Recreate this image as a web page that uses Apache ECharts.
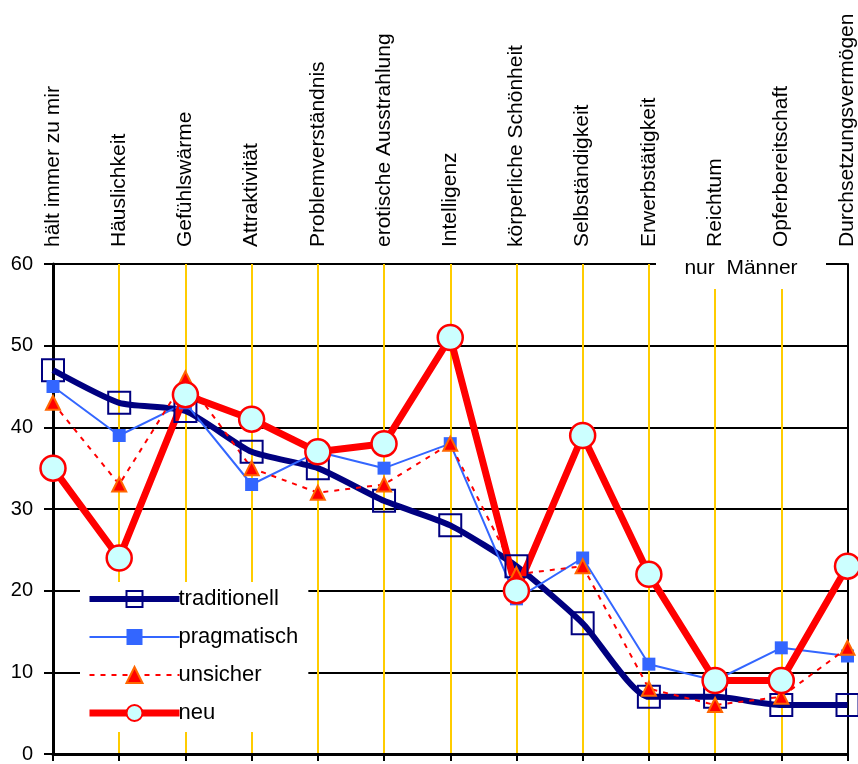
<!DOCTYPE html>
<html><head><meta charset="utf-8">
<script src="https://cdn.jsdelivr.net/npm/echarts@6/dist/echarts.min.js"></script>
<style>html,body{margin:0;padding:0;background:#fff}#c{width:858px;height:764px}</style>
</head><body><div id="c"></div>
<script>
const categories = ["hält immer zu mir","Häuslichkeit","Gefühlswärme","Attraktivität","Problemverständnis","erotische Ausstrahlung","Intelligenz","körperliche Schönheit","Selbständigkeit","Erwerbstätigkeit","Reichtum","Opferbereitschaft","Durchsetzungsvermögen"];
const traditionell = [47,43,42,37,35,31,28,23,16,7,7,6,6];
const pragmatisch  = [45,39,43,33,37,35,38,19,24,11,9,13,12];
const unsicher     = [43,33,46,35,32,33,38,22,23,8,6,7,13];
const neu          = [35,24,44,41,37,38,51,20,39,22,9,9,23];
const yTicks = {min:0, max:60, interval:10};
const noteText = "nur  Männer";

const FONT = '"Liberation Sans", Arial, sans-serif';
const chart = echarts.init(document.getElementById('c'));
chart.setOption({
  animation:false,
  backgroundColor:'#fff',
  grid:{left:53,right:6,top:264,bottom:6,containLabel:false},
  xAxis:[{
    type:'category', data:categories, boundaryGap:false, position:'bottom',
    axisLine:{show:true,lineStyle:{color:'#000',width:3}},
    axisTick:{show:true,interval:0,length:7,lineStyle:{color:'#000',width:2}},
    axisLabel:{show:false,interval:0},
    splitLine:{show:true,interval:0,lineStyle:{color:'#FFCC00',width:2}}
  },{
    type:'category', data:categories, boundaryGap:false, position:'top',
    axisLine:{show:true,lineStyle:{color:'#000',width:2}},
    axisTick:{show:false},
    axisLabel:{show:true,rotate:90,margin:17,color:'#000',fontSize:21,fontFamily:FONT,interval:0},
    splitLine:{show:false}
  }],
  yAxis:[{
    type:'value', min:yTicks.min, max:yTicks.max, interval:yTicks.interval,
    axisLine:{show:true,lineStyle:{color:'#000',width:3}},
    axisTick:{show:true,length:9,lineStyle:{color:'#000',width:2}},
    axisLabel:{margin:20,color:'#000',fontSize:20,fontFamily:FONT},
    splitLine:{show:true,lineStyle:{color:'#000',width:2}}
  },{
    type:'value', min:yTicks.min, max:yTicks.max, interval:yTicks.interval, position:'right',
    axisLine:{show:true,lineStyle:{color:'#000',width:2}},
    axisTick:{show:false}, axisLabel:{show:false}, splitLine:{show:false}
  }],
  legend:{
    orient:'vertical', left:80, top:582,
    backgroundColor:'#fff', padding:[6,10,8,6],
    itemWidth:90, itemHeight:20, itemGap:16,
    textStyle:{color:'#000',fontSize:22,fontFamily:FONT,lineHeight:22,padding:[0,0,0,-6]},
    data:[
      {name:'traditionell', lineStyle:{width:6,color:'#000080'}},
      {name:'pragmatisch', lineStyle:{width:2,color:'#3366FF'}},
      {name:'unsicher', lineStyle:{width:2,color:'#FF0000',type:[5,6]}},
      {name:'neu', lineStyle:{width:7,color:'#FF0000'}}
    ]
  },
  graphic:[{
    type:'rect', z:100, shape:{x:656,y:251,width:170,height:38},
    style:{fill:'#fff'}
  },{
    type:'text', z:101, x:741, y:268,
    style:{text:noteText, fill:'#000', font:'21px "Liberation Sans", Arial, sans-serif', align:'center', verticalAlign:'middle'}
  }],
  series:[{
    name:'traditionell', type:'line', data:traditionell, smooth:0.2,
    lineStyle:{color:'#000080',width:6},
    symbol:'rect', symbolSize:22,
    itemStyle:{color:'rgba(255,255,255,0)',borderColor:'#000080',borderWidth:2}
  },{
    name:'pragmatisch', type:'line', data:pragmatisch,
    lineStyle:{color:'#3366FF',width:2},
    symbol:'rect', symbolSize:13,
    itemStyle:{color:'#3366FF',borderColor:'#3366FF',borderWidth:0}
  },{
    name:'unsicher', type:'line', data:unsicher,
    lineStyle:{color:'#FF0000',width:2,type:[5,6]},
    symbol:'triangle', symbolSize:14,
    itemStyle:{color:'#FF0000',borderColor:'#FF6600',borderWidth:2}
  },{
    name:'neu', type:'line', data:neu,
    lineStyle:{color:'#FF0000',width:7},
    symbol:'circle', symbolSize:25,
    itemStyle:{color:'#CCFFFF',borderColor:'#FF0000',borderWidth:2.5}
  }]
});
</script></body></html>
